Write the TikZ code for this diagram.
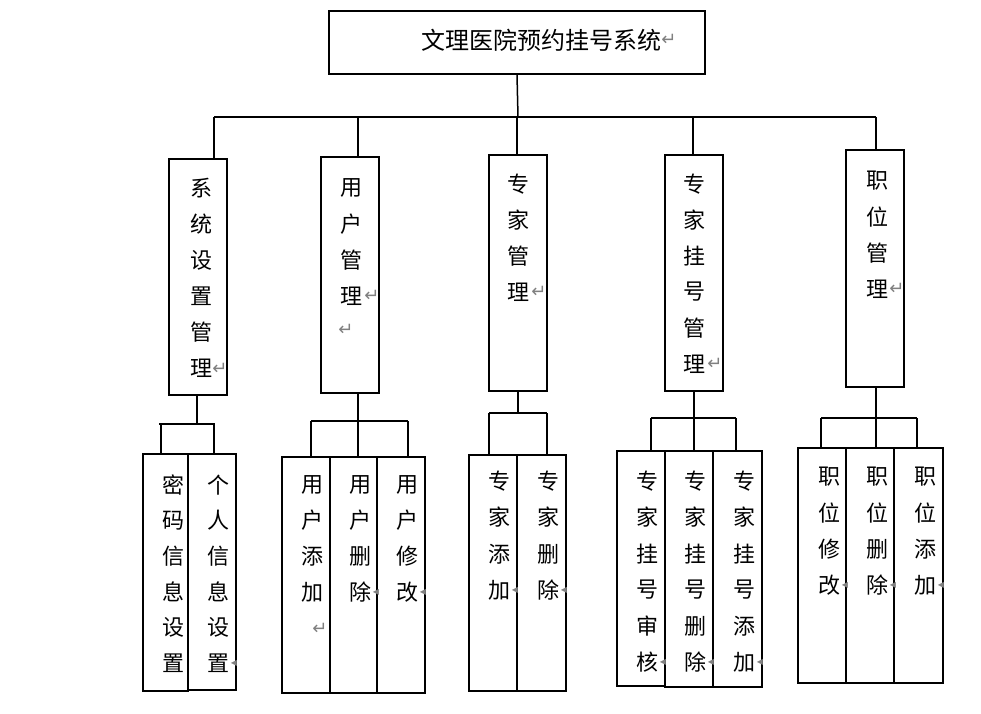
\documentclass[tikz,border=0pt]{standalone}
\usepackage{fontspec}
\newfontfamily\cjk{Noto Sans CJK SC}
\newfontfamily\symf{DejaVu Sans}
\tikzset{
  box/.style={draw=black, line width=1.6pt, inner sep=0pt, fill=none},
  ch/.style={inner sep=0pt, font=\cjk\fontsize{22}{22}\selectfont, text=black},
  titlech/.style={inner sep=0pt, font=\cjk\fontsize{24}{24}\selectfont, text=black},
  retmark/.style={inner sep=0pt, font=\symf\fontsize{18}{18}\selectfont, text=gray},
  tri/.style={inner sep=0pt, font=\symf\fontsize{8}{8}\selectfont, text=gray},
  conn/.style={line width=1.5pt, draw=black},
}
\newcommand\vcol[5]{%
  \foreach \c [count=\i] in {#5} {
    \node[ch] (#1-\i) at (#2, {#3+#4*(\i-1)}) {\c};
  }%
}
\begin{document}
\begin{tikzpicture}[x=1pt,y=-1pt]
\useasboundingbox (0,0) rectangle (981,713);
% ---- boxes ----
\node[box, minimum width=376pt, minimum height=63pt] (top) at (517,42.5) {};
\node[box, minimum width=58pt, minimum height=236pt] (s1) at (198,277) {};
\node[box, minimum width=58pt, minimum height=236pt] (s2) at (350,275) {};
\node[box, minimum width=58pt, minimum height=236pt] (s3) at (518,273) {};
\node[box, minimum width=58pt, minimum height=236pt] (s4) at (694,273) {};
\node[box, minimum width=58pt, minimum height=237pt] (s5) at (875,268.5) {};
\node[box, minimum width=45pt, minimum height=237pt] (c11) at (165.5,572.5) {};
\node[box, minimum width=48pt, minimum height=236pt] (c12) at (212,572) {};
\node[box, minimum width=48pt, minimum height=236pt] (c21) at (306,575) {};
\node[box, minimum width=47pt, minimum height=236pt] (c22) at (353.5,575) {};
\node[box, minimum width=48pt, minimum height=236pt] (c23) at (401,575) {};
\node[box, minimum width=48pt, minimum height=236pt] (c31) at (493,573) {};
\node[box, minimum width=49pt, minimum height=236pt] (c32) at (541.5,573) {};
\node[box, minimum width=48pt, minimum height=235pt] (c41) at (641,568.5) {};
\node[box, minimum width=48pt, minimum height=236pt] (c42) at (689,569) {};
\node[box, minimum width=49pt, minimum height=236pt] (c43) at (737.5,569) {};
\node[box, minimum width=48pt, minimum height=235pt] (c51) at (822,565.5) {};
\node[box, minimum width=48pt, minimum height=235pt] (c52) at (870,565.5) {};
\node[box, minimum width=49pt, minimum height=235pt] (c53) at (918.5,565.5) {};
% ---- texts ----
\node[titlech] (title) at (541,40) {文理医院预约挂号系统};
\node[retmark, anchor=west] (titlemark) at ([xshift=0pt]title.east) {↵};
\vcol{t1}{201}{188}{36}{系,统,设,置,管,理}
\vcol{t2}{351}{188}{36}{用,户,管,理}
\vcol{t3}{518}{184}{36}{专,家,管,理}
\vcol{t4}{694}{184}{36}{专,家,挂,号,管,理}
\vcol{t5}{877}{181}{36}{职,位,管,理}
\vcol{u11}{173}{485}{35.6}{密,码,信,息,设,置}
\vcol{u12}{218}{485}{35.6}{个,人,信,息,设,置}
\vcol{u21}{312}{485}{35.6}{用,户,添,加}
\vcol{u22}{360}{485}{35.6}{用,户,删,除}
\vcol{u23}{407}{485}{35.6}{用,户,修,改}
\vcol{u31}{499}{481}{36.5}{专,家,添,加}
\vcol{u32}{548}{481}{36.5}{专,家,删,除}
\vcol{u41}{647}{481}{36.3}{专,家,挂,号,审,核}
\vcol{u42}{695}{481}{36.3}{专,家,挂,号,删,除}
\vcol{u43}{744}{481}{36.3}{专,家,挂,号,添,加}
\vcol{u51}{829}{477}{36}{职,位,修,改}
\vcol{u52}{877}{477}{36}{职,位,删,除}
\vcol{u53}{925}{477}{36}{职,位,添,加}
% return marks
\node[retmark] (m1) at (220,369) {↵};
\node[retmark] (m2a) at (372,296) {↵};
\node[retmark] (m2b) at (346,330) {↵};
\node[retmark] (m3) at (539,292) {↵};
\node[retmark] (m4) at (715,364) {↵};
\node[retmark] (m5) at (897,289) {↵};
\node[retmark] (m21) at (320,629) {↵};
\node[tri] (k12) at (234,663) {◀};
\node[tri] (k22) at (376,592) {◀};
\node[tri] (k23) at (423,592) {◀};
\node[tri] (k31) at (515,590) {◀};
\node[tri] (k32) at (564,590) {◀};
\node[tri] (k41) at (663,662) {◀};
\node[tri] (k42) at (711,662) {◀};
\node[tri] (k43) at (760,662) {◀};
\node[tri] (k51) at (845,585) {◀};
\node[tri] (k52) at (893,585) {◀};
\node[tri] (k53) at (941,585) {◀};
% ---- connectors: top level ----
\coordinate (busL) at (214,117);
\coordinate (busR) at (876,117);
\coordinate (busM) at (518,117);
\draw[conn] (top.south) -- (busM);
\draw[conn] (busL) -- (busR);
\coordinate (d1) at (214,117);
\coordinate (d2) at (358,117);
\coordinate (d3) at (517,117);
\coordinate (d4) at (693,117);
\coordinate (d5) at (876,117);
\draw[conn] (d1) -- (d1 |- s1.north);
\draw[conn] (d2) -- (d2 |- s2.north);
\draw[conn] (d3) -- (d3 |- s3.north);
\draw[conn] (d4) -- (d4 |- s4.north);
\draw[conn] (d5) -- (d5 |- s5.north);
% ---- group 1 ----
\coordinate (g1) at (197,424);
\coordinate (g1l) at (161,424);
\coordinate (g1r) at (214,424);
\draw[conn] (g1 |- s1.south) -- (g1);
\draw[conn] (159,424) -- (215,424);
\draw[conn] (g1l) -- (g1l |- c11.north);
\draw[conn] (g1r) -- (g1r |- c12.north);
% ---- group 2 ----
\coordinate (g2) at (358,421);
\coordinate (g2l) at (311,421);
\coordinate (g2r) at (408,421);
\draw[conn] (g2 |- s2.south) -- (g2 |- c22.north);
\draw[conn] (g2l) -- (g2r);
\draw[conn] (g2l) -- (g2l |- c21.north);
\draw[conn] (g2r) -- (g2r |- c23.north);
% ---- group 3 ----
\coordinate (g3) at (518,413);
\coordinate (g3l) at (489,413);
\coordinate (g3r) at (547,413);
\draw[conn] (g3 |- s3.south) -- (g3);
\draw[conn] (g3l) -- (g3r);
\draw[conn] (g3l) -- (g3l |- c31.north);
\draw[conn] (g3r) -- (g3r |- c32.north);
% ---- group 4 ----
\coordinate (g4) at (694,418);
\coordinate (g4l) at (651,418);
\coordinate (g4r) at (736,418);
\draw[conn] (g4 |- s4.south) -- (g4 |- c42.north);
\draw[conn] (g4l) -- (g4r);
\draw[conn] (g4l) -- (g4l |- c41.north);
\draw[conn] (g4r) -- (g4r |- c43.north);
% ---- group 5 ----
\coordinate (g5) at (876,418);
\coordinate (g5l) at (821,418);
\coordinate (g5r) at (917,418);
\draw[conn] (g5 |- s5.south) -- (g5 |- c52.north);
\draw[conn] (g5l) -- (g5r);
\draw[conn] (g5l) -- (g5l |- c51.north);
\draw[conn] (g5r) -- (g5r |- c53.north);
\end{tikzpicture}
\end{document}
